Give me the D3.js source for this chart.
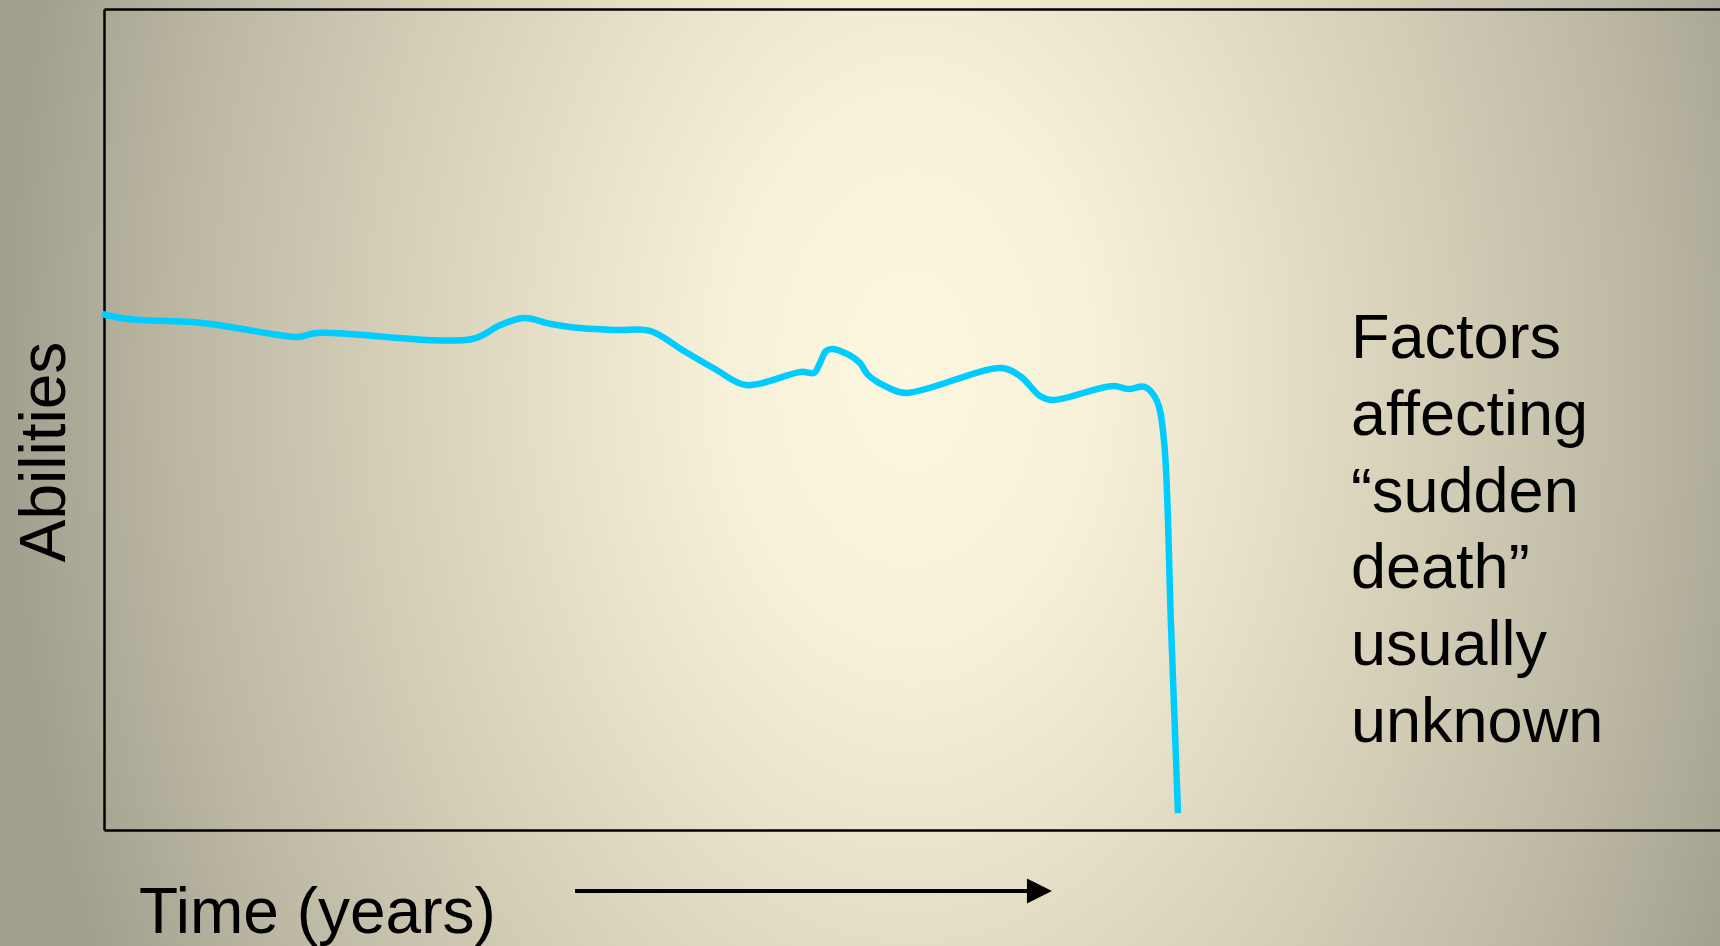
<!DOCTYPE html>
<html>
<head>
<meta charset="utf-8">
<script src="https://cdn.jsdelivr.net/npm/d3@7"></script>
<style>
  html, body { margin: 0; padding: 0; overflow: hidden; background: #a9a696; }
  svg { display: block; }
  text { font-family: "Liberation Sans", Arial, sans-serif; fill: #000; }
</style>
</head>
<body>
<svg id="chart" width="1720" height="946"></svg>
<script>
// ---- data (time in years, abilities in % of full scale) ----
const years = [-0.12, 1.49, 6.06, 10.83, 12.00, 13.18, 22.77, 24.53, 25.99, 27.66, 29.08, 31.68, 33.79, 35.89, 37.81, 39.73,
  43.13, 43.94, 44.31, 44.68, 45.11, 46.10, 46.78, 47.28, 48.45, 49.63, 55.57, 56.75, 57.92, 58.66, 62.44, 63.37,
  64.42, 65.16, 65.59, 66.03, 66.46];
const abilities = [62.85, 62.24, 61.75, 60.29, 60.05, 60.54, 59.81, 61.51, 62.36, 61.63, 61.21, 60.90, 60.78, 58.34, 56.15, 54.20,
  55.80, 55.69, 56.91, 58.34, 58.59, 57.86, 56.88, 55.42, 53.96, 53.23, 56.27, 55.18, 52.86, 52.37, 54.08, 53.71,
  53.96, 52.25, 47.50, 24.80, 2.07];
const xDomain = [0, 100];
const yDomain = [0, 100];
const yLabel = "Abilities";
const xLabel = "Time (years)";
const noteLines = ["Factors", "affecting", "\u201Csudden", "death\u201D", "usually", "unknown"];
const arrowYears = [29.15, 58.66];

// ---- layout ----
const W = 1720, H = 946;
const svg = d3.select("#chart");
const x = d3.scaleLinear().domain(xDomain).range([104, 1720]);
const y = d3.scaleLinear().domain(yDomain).range([830, 9]);

// background gradient
const defs = svg.append("defs");
const cx = 910, cy = 370;
const grad = defs.append("radialGradient")
  .attr("id", "bg").attr("gradientUnits", "userSpaceOnUse")
  .attr("cx", cx).attr("cy", cy).attr("r", 910).attr("fx", cx).attr("fy", cy)
  .attr("gradientTransform", `translate(${cx},${cy}) scale(1,1.5) translate(${-cx},${-cy})`);
[[0, "#fdf7e0"], [0.2, "#f8f1d9"], [0.35, "#ebe4cc"], [0.55, "#d8d1ba"], [0.8, "#bcb8a3"], [0.97, "#a5a292"], [1, "#a19e8e"]]
  .forEach(([o, c]) => grad.append("stop").attr("offset", o).attr("stop-color", c));
svg.append("rect").attr("width", W).attr("height", H).attr("fill", "url(#bg)");

// frame (axes without ticks)
svg.append("g").attr("transform", `translate(0,${y(yDomain[0])})`)
  .call(d3.axisBottom(x).ticks(0).tickSizeOuter(0))
  .call(g => g.select(".domain").attr("stroke", "#000").attr("stroke-width", 2.5));
svg.append("g").attr("transform", `translate(${x(xDomain[0])},0)`)
  .call(d3.axisLeft(y).ticks(0).tickSizeOuter(0))
  .call(g => g.select(".domain").attr("stroke", "#000").attr("stroke-width", 2.5));
svg.append("g").attr("transform", `translate(0,${y(yDomain[1])})`)
  .call(d3.axisTop(x).ticks(0).tickSizeOuter(0))
  .call(g => g.select(".domain").attr("stroke", "#000").attr("stroke-width", 2.5));

// line
const pts = years.map((t, i) => [t, abilities[i]]);
const line = d3.line().x(d => x(d[0])).y(d => y(d[1])).curve(d3.curveCatmullRom.alpha(0.5));
svg.append("path").datum(pts)
  .attr("d", line)
  .attr("fill", "none")
  .attr("stroke", "#00ccff")
  .attr("stroke-width", 6.5)
  .attr("stroke-linejoin", "round");

// y label
svg.append("text")
  .attr("transform", `translate(65,${y(46.05)}) rotate(-90)`)
  .attr("text-anchor", "middle")
  .attr("font-size", 64)
  .text(yLabel);

// x label
const bottom = y(yDomain[0]);
svg.append("text")
  .attr("x", 139).attr("y", bottom + 103)
  .attr("font-size", 64)
  .text(xLabel);

// arrow
const ay = bottom + 61;
const a0 = x(arrowYears[0]), a1 = x(arrowYears[1]);
svg.append("line")
  .attr("x1", a0).attr("x2", a1 - 22).attr("y1", ay).attr("y2", ay)
  .attr("stroke", "#000").attr("stroke-width", 4);
svg.append("path")
  .attr("d", `M${a1 - 25},${ay - 12.5} L${a1},${ay} L${a1 - 25},${ay + 12.5} Z`)
  .attr("fill", "#000");

// note
const note = svg.append("text").attr("font-size", 63);
noteLines.forEach((s, i) => {
  note.append("tspan").attr("x", 1351).attr("y", 358 + i * 76.8).text(s);
});
</script>
</body>
</html>
